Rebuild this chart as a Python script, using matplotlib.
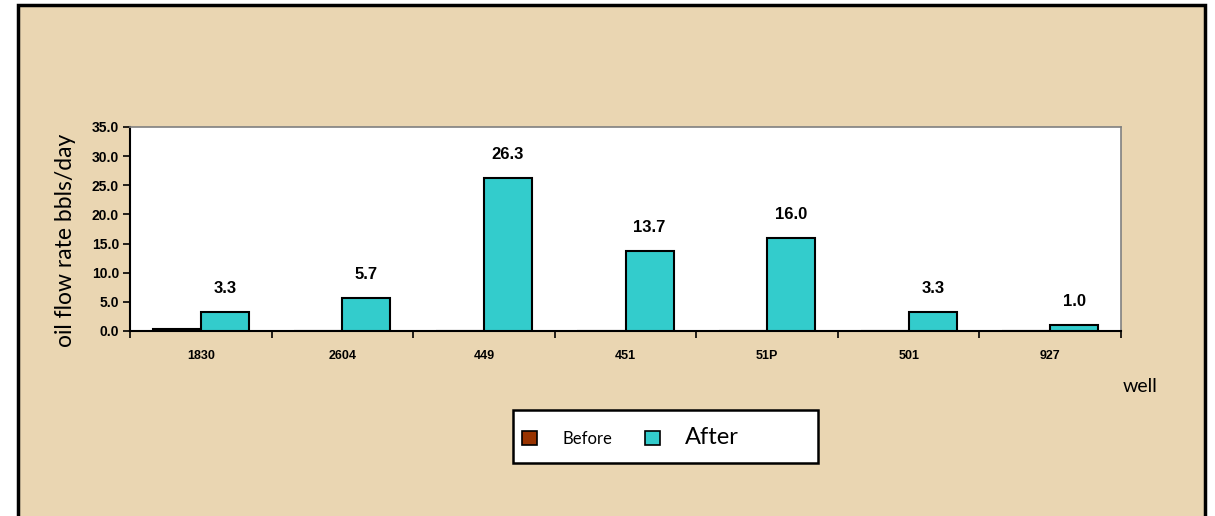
import numpy as np
import matplotlib.pyplot as plt
from matplotlib.patches import Rectangle

wells = ["1830", "2604", "449", "451", "51P", "501", "927"]
before = [0.4, 0, 0, 0, 0, 0, 0]
after = [3.3, 5.7, 26.3, 13.7, 16.0, 3.3, 1.0]

fig = plt.figure(figsize=(12.15, 5.16), dpi=100)
fig.patch.set_facecolor("white")
W, H = 1215, 516

# beige panel with black frame, behind everything
bg = fig.add_axes([0, 0, 1, 1], zorder=-1)
bg.set_xlim(0, W)
bg.set_ylim(H, 0)
bg.axis("off")
bg.add_patch(Rectangle((18, 5), 1205 - 18, H, facecolor="#ead6b2",
                       edgecolor="black", linewidth=2.5))
# legend box
bg.add_patch(Rectangle((513, 410), 818 - 513, 463 - 410, facecolor="white",
                       edgecolor="black", linewidth=1.8))

ax = fig.add_axes([130 / W, 1 - 331 / H, (1121 - 130) / W, (331 - 127) / H])
ax.set_facecolor("white")

x = np.arange(len(wells))
w = 0.34
ax.bar(x - w / 2, before, w, color="#993300", edgecolor="black", linewidth=1.5, zorder=3)
ax.bar(x + w / 2, after, w, color="#33cccc", edgecolor="black", linewidth=1.5, zorder=3)

for xi, v in zip(x, after):
    ax.annotate(f"{v:.1f}", (xi + w / 2, v), xytext=(0, 17), textcoords="offset points",
                ha="center", va="center", fontsize=12, fontweight="bold",
                family="Liberation Sans")

ax.set_xlim(-0.5, len(wells) - 0.5)
ax.set_ylim(0, 35)
ax.set_yticks(np.arange(0, 35.1, 5))
ax.set_yticklabels([f"{t:.1f}" for t in np.arange(0, 35.1, 5)],
                   fontsize=10, fontweight="bold", family="Liberation Sans")
ax.set_xticks(x)
ax.set_xticklabels(wells, fontsize=9, fontweight="bold", family="Liberation Sans")
ax.set_xticks(np.arange(-0.5, len(wells)), minor=True)
ax.tick_params(axis="x", which="major", length=0, pad=14)
ax.tick_params(axis="x", which="minor", length=5, width=1.2, direction="out")
ax.tick_params(axis="y", length=5, width=1.2, direction="out", pad=3)

for s in ["top", "right"]:
    ax.spines[s].set_color("#808080")
    ax.spines[s].set_linewidth(1.2)
for s in ["left", "bottom"]:
    ax.spines[s].set_color("black")
    ax.spines[s].set_linewidth(1.5)

fig.text(65 / W, 1 - 240 / H, "oil flow rate bbls/day", rotation=90,
         ha="center", va="center", fontsize=16.5, family="Lato")
fig.text(1140 / W, 1 - 387 / H, "well", ha="center", va="center",
         fontsize=14, family="Lato")

handles = [Rectangle((0, 0), 1, 1, facecolor="#993300", edgecolor="black", linewidth=1.2),
           Rectangle((0, 0), 1, 1, facecolor="#33cccc", edgecolor="black", linewidth=1.2)]
leg = fig.legend(handles, ["Before", "After"], ncol=2, loc="center left",
                 bbox_to_anchor=(522 / W, 1 - 437 / H),
                 frameon=False, handlelength=0.9, handleheight=0.9,
                 handletextpad=1.5, columnspacing=2.0, borderaxespad=0, borderpad=0,
                 prop={"family": "Lato", "size": 12})
leg.get_texts()[1].set_fontsize(17)

fig.savefig("out.png", dpi=100, facecolor=fig.get_facecolor())
